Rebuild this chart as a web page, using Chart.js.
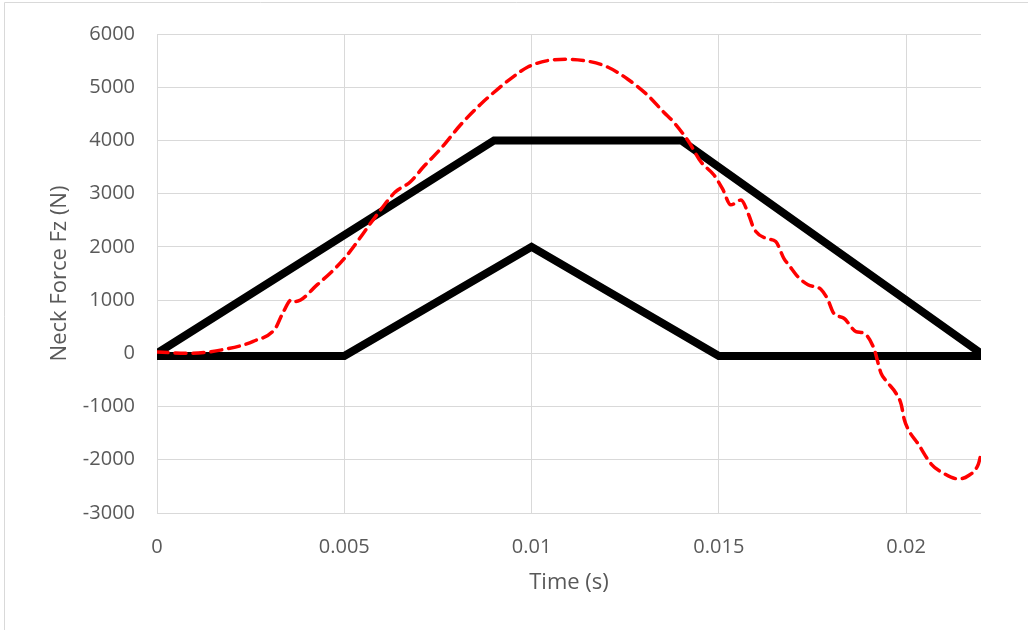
<!DOCTYPE html>
<html>
<head>
<meta charset="utf-8">
<script src="https://cdn.jsdelivr.net/npm/chart.js@4.4.1/dist/chart.umd.min.js"></script>
<style>
  html, body { margin: 0; padding: 0; background: #fff; }
  #wrap { width: 1028px; height: 630px; }
</style>
</head>
<body>
<div id="wrap"><canvas id="neckChart" width="1028" height="630"></canvas></div>
<script>
// upper corridor (black)
const upperTime  = [0, 0.009, 0.014, 0.022];
const upperForce = [0, 4000, 4000, 0];

// lower corridor (black)
const lowerTime  = [0, 0.005, 0.01, 0.015, 0.022];
const lowerForce = [-50, -50, 2000, -50, -50];

// measured neck force (red dashed)
const redTime = [0, 0.00088, 0.0018, 0.00257, 0.00316, 0.00334, 0.0036, 0.0037,
  0.00428, 0.005, 0.00583, 0.00636, 0.00676, 0.00711, 0.00757, 0.0081, 0.00864,
  0.00909, 0.0095, 0.0099, 0.01043, 0.01096, 0.0115, 0.01203, 0.01257, 0.0131,
  0.01353, 0.0138, 0.0142, 0.01452, 0.01487, 0.0151, 0.01532, 0.01559, 0.0158,
  0.01594, 0.01631, 0.01652, 0.01674, 0.01687, 0.01711, 0.01738, 0.01773, 0.01791,
  0.01807, 0.01834, 0.01866, 0.01888, 0.01914, 0.01933, 0.01947, 0.01973, 0.01987,
  0.01995, 0.02008, 0.02032, 0.02067, 0.02099, 0.0214, 0.02166, 0.02193, 0.022];
const redForce = [25, 0, 75, 225, 470, 730, 1010, 975,
  1290, 1780, 2565, 3030, 3220, 3500, 3840, 4290, 4680,
  4960, 5190, 5380, 5500, 5525, 5490, 5380, 5150, 4850,
  4530, 4340, 3970, 3600, 3350, 3090, 2790, 2880, 2600,
  2340, 2150, 2100, 1780, 1660, 1440, 1290, 1200, 1010,
  750, 660, 410, 375, 95, -370, -520, -750, -960,
  -1240, -1460, -1700, -2080, -2250, -2360, -2300, -2080, -1890];

// axis ranges
const yMin = -3000, yMax = 6000, yStep = 1000;
const xMin = 0, xMax = 0.022, xStep = 0.005;

function pts(xs, ys) {
    return xs.map((x, i) => ({ x: x, y: ys[i] }));
}

// white background and thin outer frame
const frame = {
    id: 'frame',
    beforeDraw(chart) {
        const c = chart.ctx;
        c.save();
        c.fillStyle = '#fff';
        c.fillRect(0, 0, chart.width, chart.height);
        c.strokeStyle = '#d9d9d9';
        c.lineWidth = 1;
        c.beginPath();
        c.moveTo(4.5, chart.height);
        c.lineTo(4.5, 2.5);
        c.lineTo(chart.width, 2.5);
        c.stroke();
        c.restore();
    }
};

const tickFont = { family: 'Open Sans', size: 20 };
const titleFont = { family: 'Open Sans', size: 22 };

new Chart(document.getElementById('neckChart').getContext('2d'), {
    type: 'line',
    data: {
        datasets: [{
            data: pts(upperTime, upperForce),
            borderColor: '#000',
            borderWidth: 8,
            borderJoinStyle: 'miter',
            pointRadius: 0,
            order: 2
        }, {
            data: pts(lowerTime, lowerForce),
            borderColor: '#000',
            borderWidth: 8,
            borderJoinStyle: 'miter',
            pointRadius: 0,
            order: 2
        }, {
            data: pts(redTime, redForce),
            borderColor: '#ff0000',
            borderWidth: 3.5,
            borderDash: [11, 7],
            borderCapStyle: 'round',
            cubicInterpolationMode: 'monotone',
            pointRadius: 0,
            order: 1
        }]
    },
    options: {
        responsive: false,
        animation: false,
        layout: { padding: { left: 47, top: 32, right: 47, bottom: 34 } },
        plugins: {
            legend: { display: false },
            tooltip: { enabled: false }
        },
        scales: {
            x: {
                type: 'linear',
                min: xMin,
                max: xMax,
                grid: { color: '#d9d9d9', drawTicks: false },
                border: { display: false },
                ticks: {
                    stepSize: xStep,
                    includeBounds: false,
                    padding: 22,
                    color: '#595959',
                    font: tickFont,
                    maxRotation: 0,
                    callback: v => String(+v.toFixed(3))
                },
                title: { display: true, text: 'Time (s)', color: '#595959', font: titleFont, padding: 0 },
                afterFit(s) { s.height = 83; }
            },
            y: {
                min: yMin,
                max: yMax,
                grid: { color: '#d9d9d9', drawTicks: false },
                border: { display: false },
                ticks: {
                    stepSize: yStep,
                    padding: 22,
                    color: '#595959',
                    font: tickFont,
                    callback: v => String(v)
                },
                title: { display: true, text: 'Neck Force Fz (N)', color: '#595959', font: titleFont, padding: 0 },
                afterFit(s) { s.width = 110; }
            }
        }
    },
    plugins: [frame]
});
</script>
</body>
</html>
